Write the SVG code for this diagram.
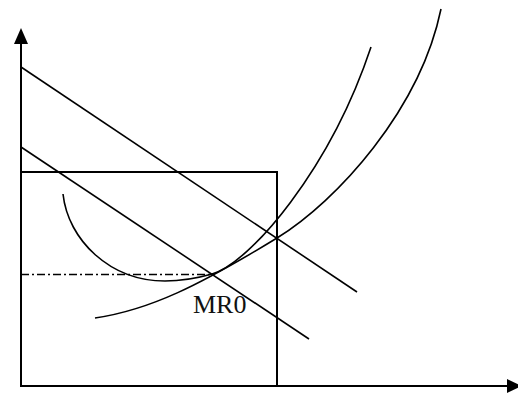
<svg xmlns="http://www.w3.org/2000/svg" width="518" height="393" viewBox="0 0 518 393">
<defs>
<style>
.ln{fill:none;stroke:#000;stroke-width:1.6}
.ax{fill:none;stroke:#000;stroke-width:2}
.lbl{font-family:"Liberation Serif","Times New Roman",serif;font-size:26px;fill:#111}
</style>
</defs>
<rect width="518" height="393" fill="#fff"/>
<g id="axes">
<line class="ax" x1="21" y1="386" x2="21" y2="40"/>
<polygon points="21,28 14,44 28,44" fill="#000"/>
<line class="ax" x1="20" y1="386" x2="510" y2="386"/>
<polygon points="522,386 507,379 507,393" fill="#000"/>
</g>
<g id="box">
<polyline class="ax" points="21,172 277,172 277,386"/>
</g>
<g id="connectors">
<line id="demand1" class="ln" x1="21" y1="67" x2="357" y2="292"/>
<line id="demand2" class="ln" x1="21" y1="147" x2="309" y2="339"/>
<line id="price" class="ln" x1="21" y1="274.5" x2="212" y2="274.5" stroke-dasharray="8,3,2,3"/>
<path id="atc" class="ln" d="M63,194 C68,240 110,281 165,281 C185,281 198,278 212,274 C250,263 330,170 371,47"/>
<path id="mc" class="ln" d="M95,318 C150,310 200,285 277,238 C337,201 420,110 441,9"/>
</g>
<g id="label">
<text class="lbl" x="193" y="313">MR0</text>
</g>
</svg>
